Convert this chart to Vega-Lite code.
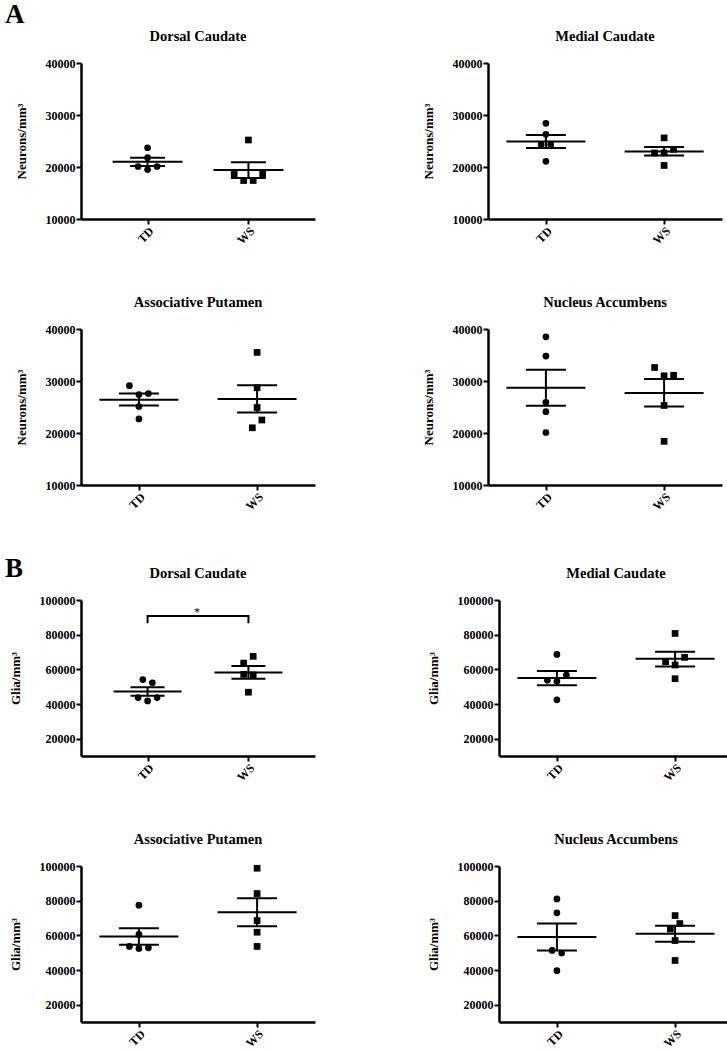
{
  "$schema": "https://vega.github.io/schema/vega-lite/v6.json",
  "padding": {"left": 5, "top": 0, "right": 0, "bottom": 0},
  "background": "white",
  "config": {
    "view": {"stroke": null},
    "font": "Liberation Serif",
    "axis": {
      "grid": false,
      "domainColor": "black", "domainWidth": 2.5,
      "tickColor": "black", "tickWidth": 2, "tickSize": 5,
      "labelFont": "Liberation Serif", "labelFontWeight": "bold", "labelFontSize": 12, "labelColor": "black", "labelPadding": 1, "labelOverlap": false,
      "titleFont": "Liberation Serif", "titleFontWeight": "bold", "titleFontSize": 13, "titleColor": "black", "titlePadding": 17
    },
    "axisY": {"tickCount": 10},
    "tick": {"opacity": 1},
    "title": {"font": "Liberation Serif", "fontSize": 14.5, "fontWeight": "bold", "color": "black", "offset": 13}
  },
  "datasets": {
    "points": [
      {"panel": "n_dc", "group": "TD", "col": 0, "value": 23700},
      {"panel": "n_dc", "group": "TD", "col": 0, "value": 21800},
      {"panel": "n_dc", "group": "TD", "col": -1, "value": 20100},
      {"panel": "n_dc", "group": "TD", "col": 1, "value": 20100},
      {"panel": "n_dc", "group": "TD", "col": 0, "value": 19500},
      {"panel": "n_dc", "group": "WS", "col": 0, "value": 25200},
      {"panel": "n_dc", "group": "WS", "col": -1.5, "value": 18600},
      {"panel": "n_dc", "group": "WS", "col": 1.5, "value": 18600},
      {"panel": "n_dc", "group": "WS", "col": -0.5, "value": 17400},
      {"panel": "n_dc", "group": "WS", "col": 0.5, "value": 17400},
      {"panel": "n_mc", "group": "TD", "col": 0, "value": 28400},
      {"panel": "n_mc", "group": "TD", "col": 0, "value": 26300},
      {"panel": "n_mc", "group": "TD", "col": -0.5, "value": 24300},
      {"panel": "n_mc", "group": "TD", "col": 0.5, "value": 24300},
      {"panel": "n_mc", "group": "TD", "col": 0, "value": 21100},
      {"panel": "n_mc", "group": "WS", "col": 0, "value": 25600},
      {"panel": "n_mc", "group": "WS", "col": -1, "value": 22700},
      {"panel": "n_mc", "group": "WS", "col": 0, "value": 22700},
      {"panel": "n_mc", "group": "WS", "col": 1, "value": 23400},
      {"panel": "n_mc", "group": "WS", "col": 0, "value": 20300},
      {"panel": "n_ap", "group": "TD", "col": -1, "value": 29100},
      {"panel": "n_ap", "group": "TD", "col": 0, "value": 27400},
      {"panel": "n_ap", "group": "TD", "col": 1, "value": 27600},
      {"panel": "n_ap", "group": "TD", "col": 0, "value": 25100},
      {"panel": "n_ap", "group": "TD", "col": 0, "value": 22700},
      {"panel": "n_ap", "group": "WS", "col": 0, "value": 35500},
      {"panel": "n_ap", "group": "WS", "col": 0, "value": 28700},
      {"panel": "n_ap", "group": "WS", "col": 0, "value": 24900},
      {"panel": "n_ap", "group": "WS", "col": 0.5, "value": 22500},
      {"panel": "n_ap", "group": "WS", "col": -0.5, "value": 21000},
      {"panel": "n_na", "group": "TD", "col": 0, "value": 38500},
      {"panel": "n_na", "group": "TD", "col": 0, "value": 34800},
      {"panel": "n_na", "group": "TD", "col": 0, "value": 25900},
      {"panel": "n_na", "group": "TD", "col": 0, "value": 24100},
      {"panel": "n_na", "group": "TD", "col": 0, "value": 20100},
      {"panel": "n_na", "group": "WS", "col": -1, "value": 32600},
      {"panel": "n_na", "group": "WS", "col": 0, "value": 31000},
      {"panel": "n_na", "group": "WS", "col": 1, "value": 31100},
      {"panel": "n_na", "group": "WS", "col": 0, "value": 25300},
      {"panel": "n_na", "group": "WS", "col": 0, "value": 18400},
      {"panel": "g_dc", "group": "TD", "col": -0.5, "value": 54100},
      {"panel": "g_dc", "group": "TD", "col": 0.5, "value": 52200},
      {"panel": "g_dc", "group": "TD", "col": -1, "value": 43700},
      {"panel": "g_dc", "group": "TD", "col": 0, "value": 41800},
      {"panel": "g_dc", "group": "TD", "col": 1, "value": 43700},
      {"panel": "g_dc", "group": "WS", "col": 0.5, "value": 67500},
      {"panel": "g_dc", "group": "WS", "col": -0.5, "value": 63600},
      {"panel": "g_dc", "group": "WS", "col": -0.5, "value": 57100},
      {"panel": "g_dc", "group": "WS", "col": 0.5, "value": 56800},
      {"panel": "g_dc", "group": "WS", "col": 0, "value": 46800},
      {"panel": "g_mc", "group": "TD", "col": 0, "value": 68600},
      {"panel": "g_mc", "group": "TD", "col": 1, "value": 56700},
      {"panel": "g_mc", "group": "TD", "col": -1, "value": 53700},
      {"panel": "g_mc", "group": "TD", "col": 0, "value": 53100},
      {"panel": "g_mc", "group": "TD", "col": 0, "value": 42400},
      {"panel": "g_mc", "group": "WS", "col": 0, "value": 80700},
      {"panel": "g_mc", "group": "WS", "col": 1, "value": 66900},
      {"panel": "g_mc", "group": "WS", "col": -1, "value": 64400},
      {"panel": "g_mc", "group": "WS", "col": 0, "value": 62500},
      {"panel": "g_mc", "group": "WS", "col": 0, "value": 54600},
      {"panel": "g_ap", "group": "TD", "col": 0, "value": 77400},
      {"panel": "g_ap", "group": "TD", "col": 0, "value": 60500},
      {"panel": "g_ap", "group": "TD", "col": -1, "value": 53600},
      {"panel": "g_ap", "group": "TD", "col": 0, "value": 52400},
      {"panel": "g_ap", "group": "TD", "col": 1, "value": 52800},
      {"panel": "g_ap", "group": "WS", "col": 0, "value": 98700},
      {"panel": "g_ap", "group": "WS", "col": 0, "value": 84100},
      {"panel": "g_ap", "group": "WS", "col": 0, "value": 68500},
      {"panel": "g_ap", "group": "WS", "col": 0, "value": 61800},
      {"panel": "g_ap", "group": "WS", "col": 0, "value": 53600},
      {"panel": "g_na", "group": "TD", "col": 0, "value": 81000},
      {"panel": "g_na", "group": "TD", "col": 0, "value": 73000},
      {"panel": "g_na", "group": "TD", "col": -0.5, "value": 51300},
      {"panel": "g_na", "group": "TD", "col": 0.5, "value": 49800},
      {"panel": "g_na", "group": "TD", "col": 0, "value": 39600},
      {"panel": "g_na", "group": "WS", "col": 0, "value": 71400},
      {"panel": "g_na", "group": "WS", "col": 0.5, "value": 66800},
      {"panel": "g_na", "group": "WS", "col": -0.5, "value": 63600},
      {"panel": "g_na", "group": "WS", "col": 0, "value": 57000},
      {"panel": "g_na", "group": "WS", "col": 0, "value": 45500}
    ],
    "summary": [
      {"panel": "n_dc", "group": "TD", "mean": 21000, "lo": 20200, "hi": 21800},
      {"panel": "n_dc", "group": "WS", "mean": 19400, "lo": 17900, "hi": 20900},
      {"panel": "n_mc", "group": "TD", "mean": 24900, "lo": 23650, "hi": 26150},
      {"panel": "n_mc", "group": "WS", "mean": 23000, "lo": 22200, "hi": 23850},
      {"panel": "n_ap", "group": "TD", "mean": 26400, "lo": 25300, "hi": 27600},
      {"panel": "n_ap", "group": "WS", "mean": 26550, "lo": 23950, "hi": 29200},
      {"panel": "n_na", "group": "TD", "mean": 28700, "lo": 25250, "hi": 32150},
      {"panel": "n_na", "group": "WS", "mean": 27700, "lo": 25100, "hi": 30400},
      {"panel": "g_dc", "group": "TD", "mean": 47200, "lo": 44700, "hi": 49700},
      {"panel": "g_dc", "group": "WS", "mean": 58200, "lo": 54600, "hi": 61900},
      {"panel": "g_mc", "group": "TD", "mean": 55000, "lo": 50800, "hi": 59000},
      {"panel": "g_mc", "group": "WS", "mean": 66100, "lo": 61700, "hi": 70200},
      {"panel": "g_ap", "group": "TD", "mean": 59300, "lo": 54500, "hi": 64100},
      {"panel": "g_ap", "group": "WS", "mean": 73300, "lo": 65300, "hi": 81400},
      {"panel": "g_na", "group": "TD", "mean": 59000, "lo": 51300, "hi": 66800},
      {"panel": "g_na", "group": "WS", "mean": 60900, "lo": 56300, "hi": 65500}
    ],
    "bracket": [
      {"panel": "g_dc", "group": "TD", "ord": 1, "y": 86600},
      {"panel": "g_dc", "group": "TD", "ord": 2, "y": 90800},
      {"panel": "g_dc", "group": "WS", "ord": 3, "y": 90800},
      {"panel": "g_dc", "group": "WS", "ord": 4, "y": 86600}
    ],
    "star": [
      {"panel": "g_dc", "group": "TD", "col": 5.2, "y": 93000, "label": "*"}
    ]
  },
  "vconcat": [
    {
      "title": {"text": "A", "anchor": "start", "frame": "group", "fontSize": 27, "offset": 0, "dx": -76},
      "columns": 2,
      "spacing": {"row": 48, "column": 107},
      "concat": [
        {
          "title": "Dorsal Caudate", "width": 234, "height": 156,
          "encoding": {"x": {"field": "group", "type": "nominal", "scale": {"type": "point", "domain": ["TD", "WS"], "padding": 0.66}, "axis": {"title": null, "labelAngle": -45}}},
          "layer": [
            {"data": {"name": "points"}, "transform": [{"filter": "datum.panel === 'n_dc'"}],
             "mark": {"type": "point", "filled": true, "opacity": 1, "color": "black", "size": 45},
             "encoding": {
               "y": {"field": "value", "type": "quantitative", "title": "Neurons/mm³", "scale": {"domain": [10000, 40000], "nice": false, "zero": false}, "axis": {"values": [10000, 20000, 30000, 40000], "format": "d"}},
               "xOffset": {"field": "col", "type": "quantitative", "scale": {"domain": [-1, 1], "range": [-9.5, 9.5]}},
               "shape": {"field": "group", "type": "nominal", "scale": {"domain": ["TD", "WS"], "range": ["circle", "square"]}, "legend": null}}},
            {"data": {"name": "summary"}, "transform": [{"filter": "datum.panel === 'n_dc'"}], "mark": {"type": "tick", "orient": "horizontal", "size": 70, "thickness": 2, "color": "black"}, "encoding": {"y": {"field": "mean", "type": "quantitative", "title": "Neurons/mm³"}}},
            {"data": {"name": "summary"}, "transform": [{"filter": "datum.panel === 'n_dc'"}], "mark": {"type": "tick", "orient": "horizontal", "size": 35, "thickness": 2, "color": "black"}, "encoding": {"y": {"field": "hi", "type": "quantitative", "title": "Neurons/mm³"}}},
            {"data": {"name": "summary"}, "transform": [{"filter": "datum.panel === 'n_dc'"}], "mark": {"type": "tick", "orient": "horizontal", "size": 35, "thickness": 2, "color": "black"}, "encoding": {"y": {"field": "lo", "type": "quantitative", "title": "Neurons/mm³"}}},
            {"data": {"name": "summary"}, "transform": [{"filter": "datum.panel === 'n_dc'"}], "mark": {"type": "rule", "strokeWidth": 2, "color": "black"}, "encoding": {"y": {"field": "lo", "type": "quantitative", "title": "Neurons/mm³"}, "y2": {"field": "hi"}}}
          ]
        },
        {
          "title": "Medial Caudate", "width": 234, "height": 156,
          "encoding": {"x": {"field": "group", "type": "nominal", "scale": {"type": "point", "domain": ["TD", "WS"], "padding": 0.49}, "axis": {"title": null, "labelAngle": -45}}},
          "layer": [
            {"data": {"name": "points"}, "transform": [{"filter": "datum.panel === 'n_mc'"}],
             "mark": {"type": "point", "filled": true, "opacity": 1, "color": "black", "size": 45},
             "encoding": {
               "y": {"field": "value", "type": "quantitative", "title": "Neurons/mm³", "scale": {"domain": [10000, 40000], "nice": false, "zero": false}, "axis": {"values": [10000, 20000, 30000, 40000], "format": "d"}},
               "xOffset": {"field": "col", "type": "quantitative", "scale": {"domain": [-1, 1], "range": [-9.5, 9.5]}},
               "shape": {"field": "group", "type": "nominal", "scale": {"domain": ["TD", "WS"], "range": ["circle", "square"]}, "legend": null}}},
            {"data": {"name": "summary"}, "transform": [{"filter": "datum.panel === 'n_mc'"}], "mark": {"type": "tick", "orient": "horizontal", "size": 79, "thickness": 2, "color": "black"}, "encoding": {"y": {"field": "mean", "type": "quantitative", "title": "Neurons/mm³"}}},
            {"data": {"name": "summary"}, "transform": [{"filter": "datum.panel === 'n_mc'"}], "mark": {"type": "tick", "orient": "horizontal", "size": 40, "thickness": 2, "color": "black"}, "encoding": {"y": {"field": "hi", "type": "quantitative", "title": "Neurons/mm³"}}},
            {"data": {"name": "summary"}, "transform": [{"filter": "datum.panel === 'n_mc'"}], "mark": {"type": "tick", "orient": "horizontal", "size": 40, "thickness": 2, "color": "black"}, "encoding": {"y": {"field": "lo", "type": "quantitative", "title": "Neurons/mm³"}}},
            {"data": {"name": "summary"}, "transform": [{"filter": "datum.panel === 'n_mc'"}], "mark": {"type": "rule", "strokeWidth": 2, "color": "black"}, "encoding": {"y": {"field": "lo", "type": "quantitative", "title": "Neurons/mm³"}, "y2": {"field": "hi"}}}
          ]
        },
        {
          "title": "Associative Putamen", "width": 234, "height": 156,
          "encoding": {"x": {"field": "group", "type": "nominal", "scale": {"type": "point", "domain": ["TD", "WS"], "padding": 0.49}, "axis": {"title": null, "labelAngle": -45}}},
          "layer": [
            {"data": {"name": "points"}, "transform": [{"filter": "datum.panel === 'n_ap'"}],
             "mark": {"type": "point", "filled": true, "opacity": 1, "color": "black", "size": 45},
             "encoding": {
               "y": {"field": "value", "type": "quantitative", "title": "Neurons/mm³", "scale": {"domain": [10000, 40000], "nice": false, "zero": false}, "axis": {"values": [10000, 20000, 30000, 40000], "format": "d"}},
               "xOffset": {"field": "col", "type": "quantitative", "scale": {"domain": [-1, 1], "range": [-9.5, 9.5]}},
               "shape": {"field": "group", "type": "nominal", "scale": {"domain": ["TD", "WS"], "range": ["circle", "square"]}, "legend": null}}},
            {"data": {"name": "summary"}, "transform": [{"filter": "datum.panel === 'n_ap'"}], "mark": {"type": "tick", "orient": "horizontal", "size": 79, "thickness": 2, "color": "black"}, "encoding": {"y": {"field": "mean", "type": "quantitative", "title": "Neurons/mm³"}}},
            {"data": {"name": "summary"}, "transform": [{"filter": "datum.panel === 'n_ap'"}], "mark": {"type": "tick", "orient": "horizontal", "size": 40, "thickness": 2, "color": "black"}, "encoding": {"y": {"field": "hi", "type": "quantitative", "title": "Neurons/mm³"}}},
            {"data": {"name": "summary"}, "transform": [{"filter": "datum.panel === 'n_ap'"}], "mark": {"type": "tick", "orient": "horizontal", "size": 40, "thickness": 2, "color": "black"}, "encoding": {"y": {"field": "lo", "type": "quantitative", "title": "Neurons/mm³"}}},
            {"data": {"name": "summary"}, "transform": [{"filter": "datum.panel === 'n_ap'"}], "mark": {"type": "rule", "strokeWidth": 2, "color": "black"}, "encoding": {"y": {"field": "lo", "type": "quantitative", "title": "Neurons/mm³"}, "y2": {"field": "hi"}}}
          ]
        },
        {
          "title": "Nucleus Accumbens", "width": 234, "height": 156,
          "encoding": {"x": {"field": "group", "type": "nominal", "scale": {"type": "point", "domain": ["TD", "WS"], "padding": 0.49}, "axis": {"title": null, "labelAngle": -45}}},
          "layer": [
            {"data": {"name": "points"}, "transform": [{"filter": "datum.panel === 'n_na'"}],
             "mark": {"type": "point", "filled": true, "opacity": 1, "color": "black", "size": 45},
             "encoding": {
               "y": {"field": "value", "type": "quantitative", "title": "Neurons/mm³", "scale": {"domain": [10000, 40000], "nice": false, "zero": false}, "axis": {"values": [10000, 20000, 30000, 40000], "format": "d"}},
               "xOffset": {"field": "col", "type": "quantitative", "scale": {"domain": [-1, 1], "range": [-9.5, 9.5]}},
               "shape": {"field": "group", "type": "nominal", "scale": {"domain": ["TD", "WS"], "range": ["circle", "square"]}, "legend": null}}},
            {"data": {"name": "summary"}, "transform": [{"filter": "datum.panel === 'n_na'"}], "mark": {"type": "tick", "orient": "horizontal", "size": 79, "thickness": 2, "color": "black"}, "encoding": {"y": {"field": "mean", "type": "quantitative", "title": "Neurons/mm³"}}},
            {"data": {"name": "summary"}, "transform": [{"filter": "datum.panel === 'n_na'"}], "mark": {"type": "tick", "orient": "horizontal", "size": 40, "thickness": 2, "color": "black"}, "encoding": {"y": {"field": "hi", "type": "quantitative", "title": "Neurons/mm³"}}},
            {"data": {"name": "summary"}, "transform": [{"filter": "datum.panel === 'n_na'"}], "mark": {"type": "tick", "orient": "horizontal", "size": 40, "thickness": 2, "color": "black"}, "encoding": {"y": {"field": "lo", "type": "quantitative", "title": "Neurons/mm³"}}},
            {"data": {"name": "summary"}, "transform": [{"filter": "datum.panel === 'n_na'"}], "mark": {"type": "rule", "strokeWidth": 2, "color": "black"}, "encoding": {"y": {"field": "lo", "type": "quantitative", "title": "Neurons/mm³"}, "y2": {"field": "hi"}}}
          ]
        }
      ]
    },
    {
      "title": {"text": "B", "anchor": "start", "frame": "group", "fontSize": 27, "offset": 0, "dx": -76, "dy": 17},
      "columns": 2,
      "spacing": {"row": 48, "column": 112},
      "concat": [
        {
          "title": "Dorsal Caudate", "width": 234, "height": 156,
          "encoding": {"x": {"field": "group", "type": "nominal", "scale": {"type": "point", "domain": ["TD", "WS"], "padding": 0.66}, "axis": {"title": null, "labelAngle": -45}}},
          "layer": [
            {"data": {"name": "points"}, "transform": [{"filter": "datum.panel === 'g_dc'"}],
             "mark": {"type": "point", "filled": true, "opacity": 1, "color": "black", "size": 45},
             "encoding": {
               "y": {"field": "value", "type": "quantitative", "title": "Glia/mm³", "scale": {"domain": [10000, 100000], "nice": false, "zero": false}, "axis": {"values": [20000, 40000, 60000, 80000, 100000], "format": "d"}},
               "xOffset": {"field": "col", "type": "quantitative", "scale": {"domain": [-1, 1], "range": [-9.5, 9.5]}},
               "shape": {"field": "group", "type": "nominal", "scale": {"domain": ["TD", "WS"], "range": ["circle", "square"]}, "legend": null}}},
            {"data": {"name": "summary"}, "transform": [{"filter": "datum.panel === 'g_dc'"}], "mark": {"type": "tick", "orient": "horizontal", "size": 68, "thickness": 2, "color": "black"}, "encoding": {"y": {"field": "mean", "type": "quantitative", "title": "Glia/mm³"}}},
            {"data": {"name": "summary"}, "transform": [{"filter": "datum.panel === 'g_dc'"}], "mark": {"type": "tick", "orient": "horizontal", "size": 34, "thickness": 2, "color": "black"}, "encoding": {"y": {"field": "hi", "type": "quantitative", "title": "Glia/mm³"}}},
            {"data": {"name": "summary"}, "transform": [{"filter": "datum.panel === 'g_dc'"}], "mark": {"type": "tick", "orient": "horizontal", "size": 34, "thickness": 2, "color": "black"}, "encoding": {"y": {"field": "lo", "type": "quantitative", "title": "Glia/mm³"}}},
            {"data": {"name": "summary"}, "transform": [{"filter": "datum.panel === 'g_dc'"}], "mark": {"type": "rule", "strokeWidth": 2, "color": "black"}, "encoding": {"y": {"field": "lo", "type": "quantitative", "title": "Glia/mm³"}, "y2": {"field": "hi"}}},
            {"data": {"name": "bracket"}, "transform": [{"filter": "datum.panel === 'g_dc'"}], "mark": {"type": "line", "strokeWidth": 2, "color": "black"}, "encoding": {"y": {"field": "y", "type": "quantitative", "title": "Glia/mm³"}, "order": {"field": "ord", "type": "quantitative"}}},
            {"data": {"name": "star"}, "transform": [{"filter": "datum.panel === 'g_dc'"}], "mark": {"type": "text", "fontSize": 12, "font": "Liberation Serif", "fill": "black", "baseline": "middle"}, "encoding": {"y": {"field": "y", "type": "quantitative", "title": "Glia/mm³"}, "xOffset": {"field": "col", "type": "quantitative", "scale": {"domain": [-1, 1], "range": [-9.5, 9.5]}}, "text": {"field": "label"}}}
          ]
        },
        {
          "title": "Medial Caudate", "width": 234, "height": 156,
          "encoding": {"x": {"field": "group", "type": "nominal", "scale": {"type": "point", "domain": ["TD", "WS"], "padding": 0.49}, "axis": {"title": null, "labelAngle": -45}}},
          "layer": [
            {"data": {"name": "points"}, "transform": [{"filter": "datum.panel === 'g_mc'"}],
             "mark": {"type": "point", "filled": true, "opacity": 1, "color": "black", "size": 45},
             "encoding": {
               "y": {"field": "value", "type": "quantitative", "title": "Glia/mm³", "scale": {"domain": [10000, 100000], "nice": false, "zero": false}, "axis": {"values": [20000, 40000, 60000, 80000, 100000], "format": "d"}},
               "xOffset": {"field": "col", "type": "quantitative", "scale": {"domain": [-1, 1], "range": [-9.5, 9.5]}},
               "shape": {"field": "group", "type": "nominal", "scale": {"domain": ["TD", "WS"], "range": ["circle", "square"]}, "legend": null}}},
            {"data": {"name": "summary"}, "transform": [{"filter": "datum.panel === 'g_mc'"}], "mark": {"type": "tick", "orient": "horizontal", "size": 79, "thickness": 2, "color": "black"}, "encoding": {"y": {"field": "mean", "type": "quantitative", "title": "Glia/mm³"}}},
            {"data": {"name": "summary"}, "transform": [{"filter": "datum.panel === 'g_mc'"}], "mark": {"type": "tick", "orient": "horizontal", "size": 40, "thickness": 2, "color": "black"}, "encoding": {"y": {"field": "hi", "type": "quantitative", "title": "Glia/mm³"}}},
            {"data": {"name": "summary"}, "transform": [{"filter": "datum.panel === 'g_mc'"}], "mark": {"type": "tick", "orient": "horizontal", "size": 40, "thickness": 2, "color": "black"}, "encoding": {"y": {"field": "lo", "type": "quantitative", "title": "Glia/mm³"}}},
            {"data": {"name": "summary"}, "transform": [{"filter": "datum.panel === 'g_mc'"}], "mark": {"type": "rule", "strokeWidth": 2, "color": "black"}, "encoding": {"y": {"field": "lo", "type": "quantitative", "title": "Glia/mm³"}, "y2": {"field": "hi"}}}
          ]
        },
        {
          "title": "Associative Putamen", "width": 234, "height": 156,
          "encoding": {"x": {"field": "group", "type": "nominal", "scale": {"type": "point", "domain": ["TD", "WS"], "padding": 0.49}, "axis": {"title": null, "labelAngle": -45}}},
          "layer": [
            {"data": {"name": "points"}, "transform": [{"filter": "datum.panel === 'g_ap'"}],
             "mark": {"type": "point", "filled": true, "opacity": 1, "color": "black", "size": 45},
             "encoding": {
               "y": {"field": "value", "type": "quantitative", "title": "Glia/mm³", "scale": {"domain": [10000, 100000], "nice": false, "zero": false}, "axis": {"values": [20000, 40000, 60000, 80000, 100000], "format": "d"}},
               "xOffset": {"field": "col", "type": "quantitative", "scale": {"domain": [-1, 1], "range": [-9.5, 9.5]}},
               "shape": {"field": "group", "type": "nominal", "scale": {"domain": ["TD", "WS"], "range": ["circle", "square"]}, "legend": null}}},
            {"data": {"name": "summary"}, "transform": [{"filter": "datum.panel === 'g_ap'"}], "mark": {"type": "tick", "orient": "horizontal", "size": 79, "thickness": 2, "color": "black"}, "encoding": {"y": {"field": "mean", "type": "quantitative", "title": "Glia/mm³"}}},
            {"data": {"name": "summary"}, "transform": [{"filter": "datum.panel === 'g_ap'"}], "mark": {"type": "tick", "orient": "horizontal", "size": 40, "thickness": 2, "color": "black"}, "encoding": {"y": {"field": "hi", "type": "quantitative", "title": "Glia/mm³"}}},
            {"data": {"name": "summary"}, "transform": [{"filter": "datum.panel === 'g_ap'"}], "mark": {"type": "tick", "orient": "horizontal", "size": 40, "thickness": 2, "color": "black"}, "encoding": {"y": {"field": "lo", "type": "quantitative", "title": "Glia/mm³"}}},
            {"data": {"name": "summary"}, "transform": [{"filter": "datum.panel === 'g_ap'"}], "mark": {"type": "rule", "strokeWidth": 2, "color": "black"}, "encoding": {"y": {"field": "lo", "type": "quantitative", "title": "Glia/mm³"}, "y2": {"field": "hi"}}}
          ]
        },
        {
          "title": "Nucleus Accumbens", "width": 234, "height": 156,
          "encoding": {"x": {"field": "group", "type": "nominal", "scale": {"type": "point", "domain": ["TD", "WS"], "padding": 0.49}, "axis": {"title": null, "labelAngle": -45}}},
          "layer": [
            {"data": {"name": "points"}, "transform": [{"filter": "datum.panel === 'g_na'"}],
             "mark": {"type": "point", "filled": true, "opacity": 1, "color": "black", "size": 45},
             "encoding": {
               "y": {"field": "value", "type": "quantitative", "title": "Glia/mm³", "scale": {"domain": [10000, 100000], "nice": false, "zero": false}, "axis": {"values": [20000, 40000, 60000, 80000, 100000], "format": "d"}},
               "xOffset": {"field": "col", "type": "quantitative", "scale": {"domain": [-1, 1], "range": [-9.5, 9.5]}},
               "shape": {"field": "group", "type": "nominal", "scale": {"domain": ["TD", "WS"], "range": ["circle", "square"]}, "legend": null}}},
            {"data": {"name": "summary"}, "transform": [{"filter": "datum.panel === 'g_na'"}], "mark": {"type": "tick", "orient": "horizontal", "size": 79, "thickness": 2, "color": "black"}, "encoding": {"y": {"field": "mean", "type": "quantitative", "title": "Glia/mm³"}}},
            {"data": {"name": "summary"}, "transform": [{"filter": "datum.panel === 'g_na'"}], "mark": {"type": "tick", "orient": "horizontal", "size": 40, "thickness": 2, "color": "black"}, "encoding": {"y": {"field": "hi", "type": "quantitative", "title": "Glia/mm³"}}},
            {"data": {"name": "summary"}, "transform": [{"filter": "datum.panel === 'g_na'"}], "mark": {"type": "tick", "orient": "horizontal", "size": 40, "thickness": 2, "color": "black"}, "encoding": {"y": {"field": "lo", "type": "quantitative", "title": "Glia/mm³"}}},
            {"data": {"name": "summary"}, "transform": [{"filter": "datum.panel === 'g_na'"}], "mark": {"type": "rule", "strokeWidth": 2, "color": "black"}, "encoding": {"y": {"field": "lo", "type": "quantitative", "title": "Glia/mm³"}, "y2": {"field": "hi"}}}
          ]
        }
      ]
    }
  ],
  "spacing": 42
}
